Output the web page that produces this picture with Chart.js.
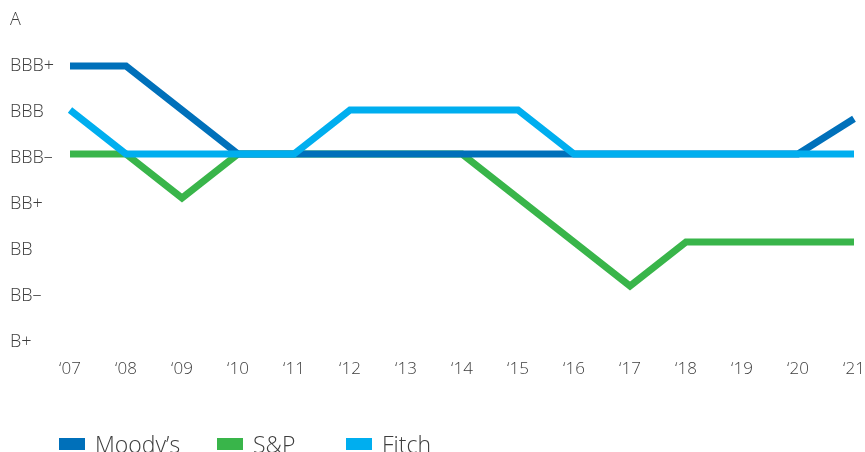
<!DOCTYPE html>
<html lang="en">
<head>
  <meta charset="UTF-8">
  <title>Credit ratings</title>
  <script src="https://cdn.jsdelivr.net/npm/chart.js"></script>
  <style>
    body {
      margin: 0;
      background: #fff;
      font-family: 'Open Sans', sans-serif;
      overflow: hidden;
    }
    .wrap {
      position: relative;
      width: 865px;
      height: 452px;
    }
    #legend {
      position: absolute;
      left: 59px;
      top: 428px;
      display: flex;
      align-items: center;
      font-size: 23px;
      font-weight: 300;
      color: #3d3d3d;
      white-space: nowrap;
    }
    #legend .item {
      display: flex;
      align-items: center;
    }
    #legend .item:nth-child(1) { width: 158px; }
    #legend .item:nth-child(2) { width: 129px; }
    #legend .box {
      width: 26px;
      height: 12px;
      margin-right: 10px;
    }
  </style>
</head>
<body>
  <div class="wrap">
    <canvas id="chart" width="865" height="452"></canvas>
    <div id="legend"></div>
  </div>

  <script>
    // rating scale, lowest first (index = value on the chart)
    const ratings = ["B+", "BB–", "BB", "BB+", "BBB–", "BBB", "BBB+", "A"];
    const years = ["‘07", "‘08", "‘09", "‘10", "‘11", "‘12", "‘13", "‘14", "‘15", "‘16", "‘17", "‘18", "‘19", "‘20", "‘21"];

    const moodys = [6, 6, 5, 4, 4, 4, 4, 4, 4, 4, 4, 4, 4, 4, 4.8];
    const sp     = [4, 4, 3, 4, 4, 4, 4, 4, 3, 2, 1, 2, 2, 2, 2];
    const fitch  = [5, 4, 4, 4, 4, 5, 5, 5, 5, 4, 4, 4, 4, 4, 4];

    const series = [
      { label: "Moody’s", data: moodys, color: "#0070ba", order: 1 },
      { label: "S&P", data: sp, color: "#39b54a", order: 2 },
      { label: "Fitch", data: fitch, color: "#00aeef", order: 0 }
    ];

    const textColor = "#3d3d3d";

    const chart = new Chart(document.getElementById("chart"), {
      type: "line",
      data: {
        labels: years,
        datasets: series.map(s => ({
          label: s.label,
          data: s.data,
          borderColor: s.color,
          backgroundColor: s.color,
          borderWidth: 7,
          borderCapStyle: "butt",
          borderJoinStyle: "miter",
          pointRadius: 0,
          tension: 0,
          fill: false,
          order: s.order,
          yAxisID: "y"
        }))
      },
      options: {
        responsive: false,
        animation: false,
        layout: { padding: { left: 10, right: 11, top: 20, bottom: 70 } },
        plugins: {
          legend: { display: false },
          tooltip: { enabled: false }
        },
        scales: {
          x: {
            offset: false,
            grid: {
              display: true,
              drawOnChartArea: false,
              drawTicks: true,
              tickLength: 17,
              color: "rgba(0,0,0,0)"
            },
            border: { display: false },
            ticks: {
              color: textColor,
              padding: 0,
              autoSkip: false,
              maxRotation: 0,
              font: { family: "'Open Sans', sans-serif", size: 17, weight: 300 }
            },
            afterFit: s => { s.height = 40; }
          },
          // data axis (hidden)
          y: {
            display: false,
            min: -0.2727,
            max: 7.045
          },
          // label axis
          y2: {
            position: "left",
            min: 0,
            max: ratings.length - 1,
            grid: { display: false, drawTicks: false },
            border: { display: false },
            ticks: {
              stepSize: 1,
              color: textColor,
              crossAlign: "far",
              padding: 0,
              font: { family: "'Open Sans', sans-serif", size: 18, weight: 300 },
              callback: v => ratings[v]
            },
            afterFit: s => { s.width = 60; }
          }
        }
      }
    });

    const legend = document.getElementById("legend");
    series.forEach(s => {
      const item = document.createElement("div");
      item.className = "item";
      item.innerHTML = `<span class="box" style="background:${s.color}"></span><span>${s.label}</span>`;
      legend.appendChild(item);
    });
  </script>
</body>
</html>
